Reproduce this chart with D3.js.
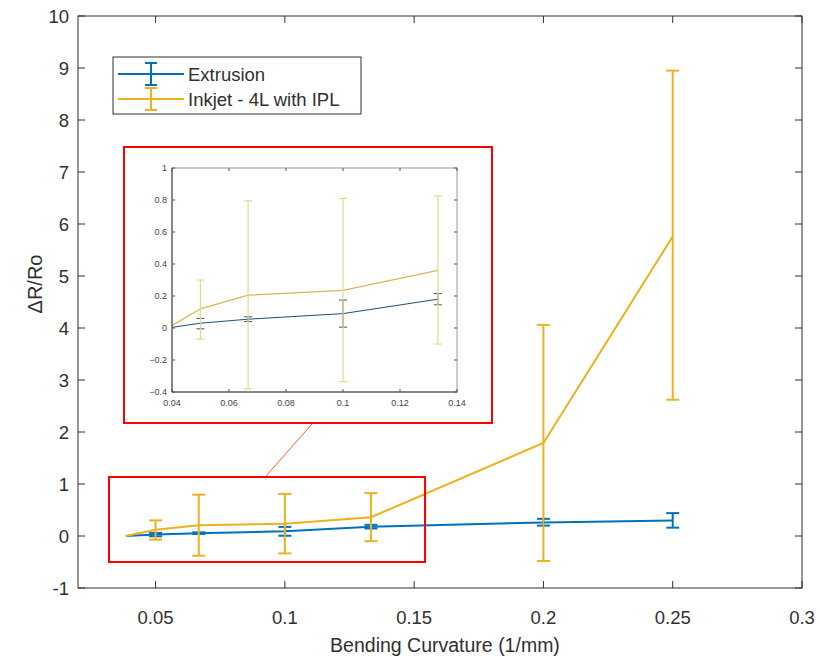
<!DOCTYPE html>
<html>
<head>
<meta charset="utf-8">
<script src="https://cdn.jsdelivr.net/npm/d3@7"></script>
<style>
  body { margin: 0; background: #fff; }
  text { font-family: "Liberation Sans", Arial, sans-serif; }
</style>
</head>
<body>
<div id="chart"></div>
<script>
// bending curvature (1/mm) and dR/Ro readings
var curvature = [0.0385, 0.05, 0.0667, 0.1, 0.1333, 0.2, 0.25];
var extrusion = [0, 0.03, 0.055, 0.09, 0.18, 0.26, 0.30];
var extrusionLow = [null, -0.005, 0.04, 0.005, 0.145, 0.20, 0.16];
var extrusionHigh = [null, 0.06, 0.07, 0.175, 0.215, 0.33, 0.44];
var inkjet = [0, 0.12, 0.205, 0.235, 0.36, 1.79, 5.76];
var inkjetLow = [null, -0.07, -0.38, -0.335, -0.10, -0.48, 2.62];
var inkjetHigh = [null, 0.30, 0.795, 0.81, 0.825, 4.06, 8.95];

var xTicks = [0.05, 0.1, 0.15, 0.2, 0.25, 0.3];
var yTicks = [-1, 0, 1, 2, 3, 4, 5, 6, 7, 8, 9, 10];
var insetXTicks = [0.04, 0.06, 0.08, 0.1, 0.12, 0.14];
var insetYTicks = [-0.4, -0.2, 0, 0.2, 0.4, 0.6, 0.8, 1];

var seriesNames = ['Extrusion', 'Inkjet - 4L with IPL'];

var W = 820, H = 663;
var svg = d3.select('#chart').append('svg').attr('width', W).attr('height', H);

var axisColor = '#303030';
var blue = '#0072BD', yellow = '#EDB120';

var x = d3.scaleLinear().domain([0.02, 0.3]).range([78, 802]);
var y = d3.scaleLinear().domain([-1, 10]).range([588, 16]);

var rows = function(mid, lo, hi) {
  return curvature.map(function(c, i) { return { x: c, y: mid[i], lo: lo[i], hi: hi[i] }; });
};
var extrusionRows = rows(extrusion, extrusionLow, extrusionHigh);
var inkjetRows = rows(inkjet, inkjetLow, inkjetHigh);

/**
 * Draw one series with its error bars.
 */
var drawSeries = function(g, data, xs, ys, color, barColor, lw, cap) {
  var line = d3.line().x(function(d) { return xs(d.x); }).y(function(d) { return ys(d.y); });
  g.append('path').datum(data).attr('d', line)
      .attr('fill', 'none').attr('stroke', color).attr('stroke-width', lw);
  var bars = data.filter(function(d) { return d.lo !== null; });
  bars.forEach(function(d) {
    var px = xs(d.x);
    g.append('line').attr('x1', px).attr('x2', px).attr('y1', ys(d.lo)).attr('y2', ys(d.hi))
        .attr('stroke', barColor).attr('stroke-width', lw);
    [d.lo, d.hi].forEach(function(v) {
      g.append('line').attr('x1', px - cap).attr('x2', px + cap).attr('y1', ys(v)).attr('y2', ys(v))
          .attr('stroke', barColor).attr('stroke-width', lw);
    });
  });
};

// main axes: box with inward ticks on every side
var main = svg.append('g');
var x0 = x.range()[0], x1 = x.range()[1], y0 = y.range()[0], y1 = y.range()[1];

drawSeries(main, extrusionRows, x, y, blue, blue, 2, 6.5);
drawSeries(main, inkjetRows, x, y, yellow, yellow, 2, 6.5);

main.append('rect').attr('x', x0).attr('y', y1).attr('width', x1 - x0).attr('height', y0 - y1)
    .attr('fill', 'none').attr('stroke', axisColor).attr('stroke-width', 1);

var tickLen = 7;
xTicks.forEach(function(t) {
  var px = x(t);
  main.append('line').attr('x1', px).attr('x2', px).attr('y1', y0).attr('y2', y0 - tickLen).attr('stroke', axisColor);
  main.append('line').attr('x1', px).attr('x2', px).attr('y1', y1).attr('y2', y1 + tickLen).attr('stroke', axisColor);
  main.append('text').attr('x', px).attr('y', 624).attr('text-anchor', 'middle')
      .attr('font-size', 18.5).attr('fill', axisColor).text(d3.format('~g')(t));
});
yTicks.forEach(function(t) {
  var py = y(t);
  main.append('line').attr('x1', x0).attr('x2', x0 + tickLen).attr('y1', py).attr('y2', py).attr('stroke', axisColor);
  main.append('line').attr('x1', x1).attr('x2', x1 - tickLen).attr('y1', py).attr('y2', py).attr('stroke', axisColor);
  main.append('text').attr('x', 69).attr('y', py + 6.5).attr('text-anchor', 'end')
      .attr('font-size', 18.5).attr('fill', axisColor).text(t);
});

main.append('text').attr('x', 445).attr('y', 652).attr('text-anchor', 'middle')
    .attr('font-size', 19.5).attr('fill', axisColor).text('Bending Curvature (1/mm)');
main.append('text').attr('transform', 'translate(42,284) rotate(-90)').attr('text-anchor', 'middle')
    .attr('font-size', 20).attr('fill', axisColor).text('\u0394R/Ro');

// legend
var legend = svg.append('g');
legend.append('rect').attr('x', 113).attr('y', 57).attr('width', 248).attr('height', 57)
    .attr('fill', '#fff').attr('stroke', axisColor).attr('stroke-width', 1);
[blue, yellow].forEach(function(c, i) {
  var ly = 74 + i * 25;
  legend.append('line').attr('x1', 118).attr('x2', 184).attr('y1', ly).attr('y2', ly).attr('stroke', c).attr('stroke-width', 2);
  legend.append('line').attr('x1', 151).attr('x2', 151).attr('y1', ly - 11).attr('y2', ly + 11).attr('stroke', c).attr('stroke-width', 2);
  legend.append('line').attr('x1', 145).attr('x2', 157).attr('y1', ly - 11).attr('y2', ly - 11).attr('stroke', c).attr('stroke-width', 2);
  legend.append('line').attr('x1', 145).attr('x2', 157).attr('y1', ly + 11).attr('y2', ly + 11).attr('stroke', c).attr('stroke-width', 2);
  legend.append('text').attr('x', 188).attr('y', ly + 6.5).attr('font-size', 18.5).attr('fill', axisColor).text(seriesNames[i]);
});

// highlight box round the low-curvature region and the connector
svg.append('rect').attr('x', 109).attr('y', 477).attr('width', 316).attr('height', 85)
    .attr('fill', 'none').attr('stroke', '#ff0000').attr('stroke-width', 2);
svg.append('line').attr('x1', 266).attr('y1', 476).attr('x2', 312).attr('y2', 424)
    .attr('stroke', '#f26522').attr('stroke-width', 1);

// inset zoom panel
var inset = svg.append('g');
inset.append('rect').attr('x', 124).attr('y', 147).attr('width', 368).attr('height', 276)
    .attr('fill', '#fff').attr('stroke', '#ff0000').attr('stroke-width', 2);

var ix = d3.scaleLinear().domain([0.04, 0.14]).range([172, 457]);
var iy = d3.scaleLinear().domain([-0.4, 1]).range([392, 168]);

svg.append('clipPath').attr('id', 'insetClip').append('rect')
    .attr('x', 172).attr('y', 168).attr('width', 285).attr('height', 224);
var insetPlot = inset.append('g').attr('clip-path', 'url(#insetClip)');
var insetRows = function(data) { return data.filter(function(d) { return d.x <= 0.14; }); };
drawSeries(insetPlot, insetRows(extrusionRows), ix, iy, '#1f4e79', '#555555', 1, 4);
drawSeries(insetPlot, insetRows(inkjetRows), ix, iy, '#d9b650', '#e6d78e', 1.2, 4);

var ic = '#555';
inset.append('rect').attr('x', 172).attr('y', 168).attr('width', 285).attr('height', 224)
    .attr('fill', 'none').attr('stroke', '#999').attr('stroke-width', 1);
inset.append('line').attr('x1', 172).attr('x2', 172).attr('y1', 168).attr('y2', 392).attr('stroke', '#444');
inset.append('line').attr('x1', 172).attr('x2', 457).attr('y1', 392).attr('y2', 392).attr('stroke', '#444');
insetXTicks.forEach(function(t) {
  var px = ix(t);
  inset.append('line').attr('x1', px).attr('x2', px).attr('y1', 392).attr('y2', 389).attr('stroke', ic);
  inset.append('line').attr('x1', px).attr('x2', px).attr('y1', 168).attr('y2', 171).attr('stroke', ic);
  inset.append('text').attr('x', px).attr('y', 406).attr('text-anchor', 'middle')
      .attr('font-size', 9).attr('fill', '#444').text(d3.format('~g')(t));
});
insetYTicks.forEach(function(t) {
  var py = iy(t);
  inset.append('line').attr('x1', 172).attr('x2', 175).attr('y1', py).attr('y2', py).attr('stroke', ic);
  inset.append('line').attr('x1', 457).attr('x2', 454).attr('y1', py).attr('y2', py).attr('stroke', ic);
  inset.append('text').attr('x', 167).attr('y', py + 3).attr('text-anchor', 'end')
      .attr('font-size', 9).attr('fill', '#444').text(d3.format('~g')(t));
});
</script>
</body>
</html>
